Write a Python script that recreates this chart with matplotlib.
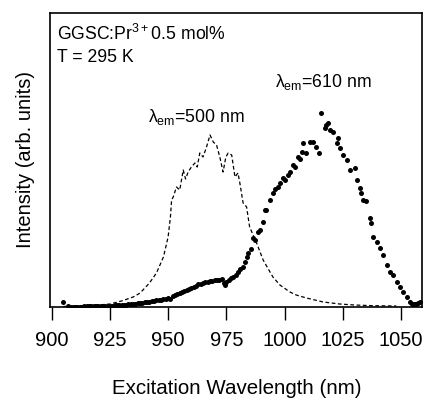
import matplotlib
matplotlib.use("Agg")
import matplotlib.pyplot as plt

# λem = 500 nm (dashed)
dash_nm = [905, 913, 920, 925, 930, 935, 938, 942, 945, 948, 950, 951, 951.5, 952.2, 953.6, 955,
           956.5, 957.5, 958.6, 960, 961.5, 962.5, 963.6, 965, 966.5, 968, 969.4, 970.8, 972.2,
           973.6, 974.8, 975.8, 977.3, 978.7, 980, 980.8, 982.2, 983.7, 985, 986.5, 988, 990.8,
           993, 995, 998, 1002.3, 1005, 1009.4, 1016.6, 1023.7, 1030, 1038, 1048]
dash_int = [0.5, 1, 2, 3, 6, 10, 14, 24, 34, 50, 70, 90, 107, 110, 120, 117,
            137, 128, 135, 140, 144, 140, 154, 150, 160, 172, 165, 162, 150,
            135, 150, 154, 152, 130, 134, 124, 104, 100, 80, 72, 64, 47,
            38, 30, 22, 15, 12, 9, 5, 3, 2, 1.3, 1]

# λem = 610 nm (dots)
dot_nm = [904.7, 907, 908, 909, 910, 911, 912, 913, 914, 915, 916, 917, 918, 919, 920, 921, 922,
          923, 924, 925, 926, 927, 928, 929, 930, 931, 932, 933, 934, 935, 936, 937, 938, 939,
          940, 941, 942, 943, 944, 945, 946, 947, 948, 949, 950, 951, 952, 953, 954, 955, 956,
          957, 958, 959, 960, 961, 962, 963, 964, 965, 966, 967, 968, 969, 970, 971, 972, 973,
          974, 974.5, 975, 976, 977, 978, 979, 980, 981, 982, 983, 984, 984.5, 985.5, 986.5,
          987.3, 988.5, 989.4, 990.8, 991.5, 992.2, 993.7, 995, 996, 997.2, 998, 999.4, 1000.2,
          1001.5, 1002.5, 1003.7, 1004.6, 1005.8, 1006.5, 1007.3, 1008, 1009.4, 1010.9, 1012.3,
          1013.7, 1014.9, 1015.6, 1017.3, 1018, 1018.7, 1019.4, 1020.9, 1022.3, 1023, 1023.7,
          1025.2, 1026.6, 1028, 1030.2, 1030.9, 1032.3, 1033, 1033.7, 1035, 1036.6, 1037.3,
          1038, 1039.5, 1040.9, 1042.3, 1043.8, 1045.2, 1046.6, 1048.1, 1049.5, 1050.9, 1052.4,
          1053.8, 1054.5, 1055.2, 1056, 1056.6, 1057.3, 1058]
dot_int = [5, 1, 0.5, 0.5, 0.5, 0.5, 0.5, 0.5, 0.7, 0.7, 0.8, 0.8, 1, 1, 1, 1, 1.2,
           1.2, 1.3, 1.5, 1.5, 1.8, 2, 2, 2.2, 2.5, 2.5, 2.8, 3, 3.2, 3.5, 3.8, 4, 4.5,
           5, 5, 5.5, 6, 6.5, 7, 7, 7.5, 8, 8.5, 9, 8, 11, 12, 13, 14, 15,
           16, 17, 18, 19, 20, 21, 23, 23, 24, 25, 25, 26, 26, 27, 27, 27, 28,
           24, 22, 25, 27, 29, 30, 32, 35, 38, 40, 45, 50, 54, 58, 69,
           67, 75, 77, 85, 97, 97, 107, 114, 118, 120, 124, 129, 127,
           132, 135, 142, 140, 150, 148, 155, 164, 154, 165, 165,
           160, 154, 194, 179, 182, 184, 177, 175, 164, 169, 159,
           152, 147, 137, 139, 127, 119, 114, 107, 106, 89, 84,
           70, 65, 59, 52, 42, 35, 32, 25, 20, 15, 10,
           5, 3, 3, 3, 3, 4, 5]

xticks = [900, 925, 950, 975, 1000, 1025, 1050]

plt.rcParams['font.family'] = ['Liberation Sans', 'DejaVu Sans']
plt.rcParams['mathtext.default'] = 'regular'

fig = plt.figure(figsize=(4.25, 4.0), dpi=100)
ax = fig.add_axes([50/425, 93/400, 372/425, 294/400])

ax.plot(dash_nm, dash_int, color='black', lw=0.9, ls=(0, (3, 2)))
ax.plot(dot_nm, dot_int, 'o', color='black', ms=3.6, mec='none')

ax.set_xlim(899.3, 1059)
ax.set_ylim(0, 294)
ax.set_xticks(xticks)
ax.set_yticks([])
ax.tick_params(axis='x', direction='out', length=9, width=1.0, labelsize=14.5, pad=8)
for s in ax.spines.values():
    s.set_linewidth(1.2)

fig.text(237/425, 1 - 388/400, 'Excitation Wavelength (nm)', fontsize=14.8,
         ha='center', va='center')
ax.set_ylabel('Intensity (arb. units)', fontsize=14.5, labelpad=11)

ax.text(902.3, 267, 'GGSC:Pr$^{3+}$0.5 mol%', fontsize=12.7, va='baseline', ha='left')
ax.text(902.3, 245, 'T = 295 K', fontsize=12.7, va='baseline', ha='left')
ax.text(941.3, 185, 'λ$_{em}$=500 nm', fontsize=12.7, va='baseline', ha='left')
ax.text(995.8, 220, 'λ$_{em}$=610 nm', fontsize=12.7, va='baseline', ha='left')

fig.savefig('out.png', dpi=100)
